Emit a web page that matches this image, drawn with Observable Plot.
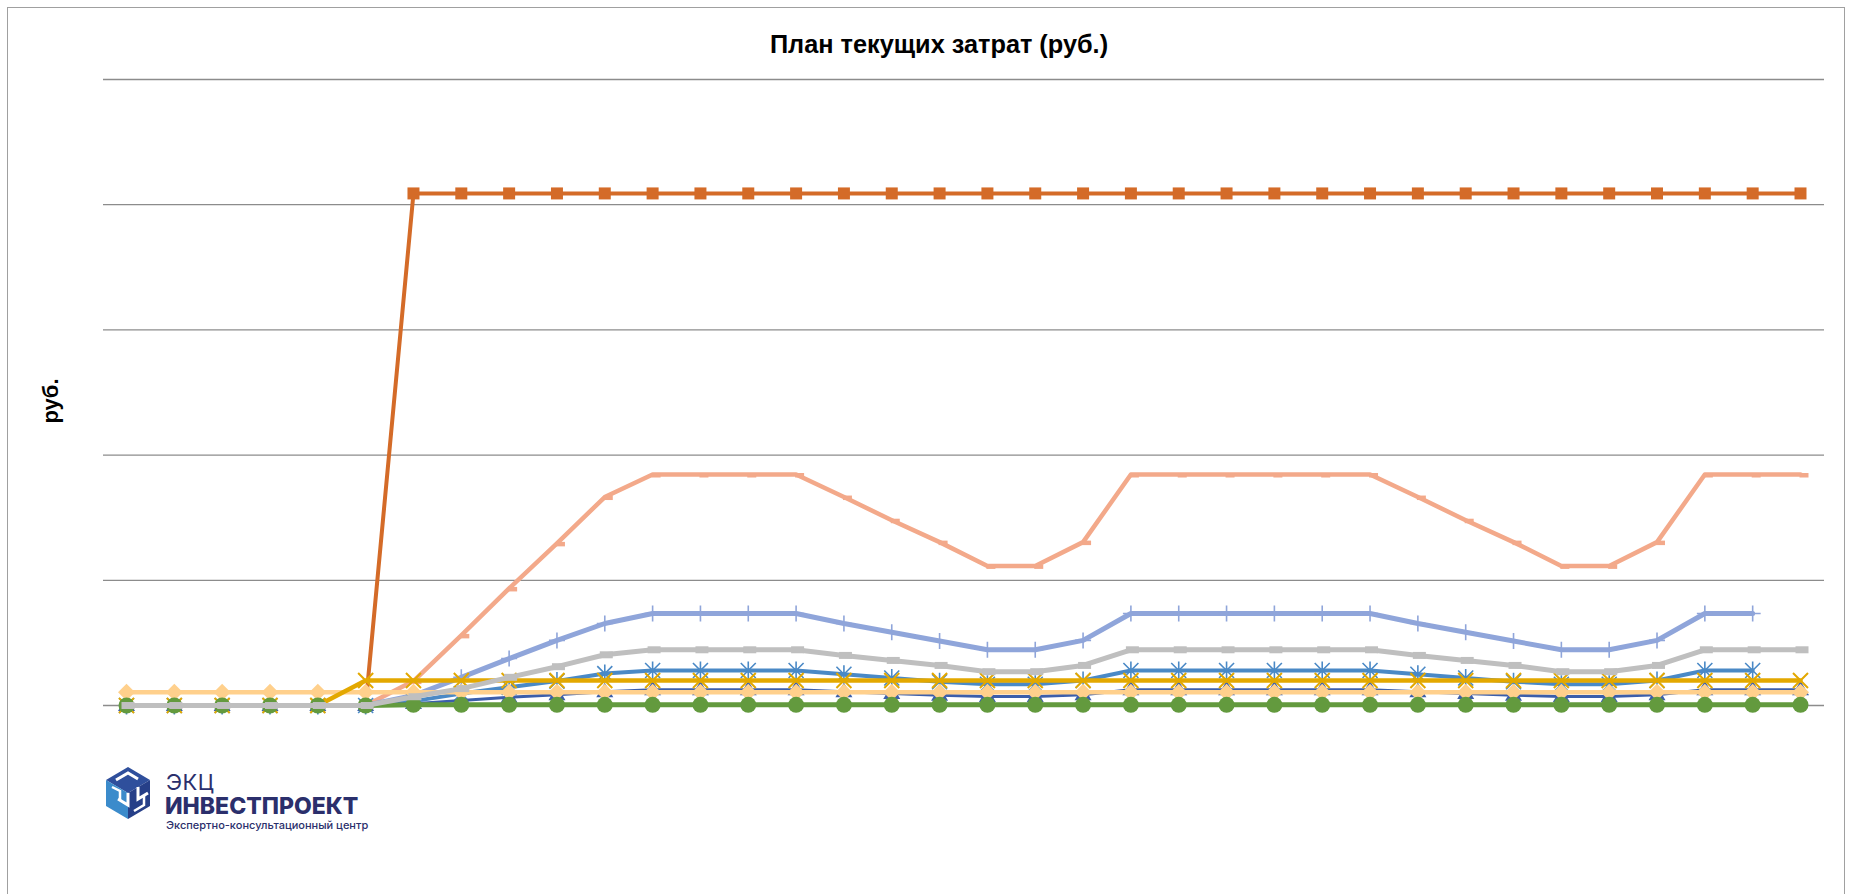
<!DOCTYPE html>
<html>
<head>
<meta charset="utf-8">
<script src="https://cdn.jsdelivr.net/npm/d3@7"></script>
<script src="https://cdn.jsdelivr.net/npm/@observablehq/plot@0.6"></script>
<style>
  html, body { margin: 0; padding: 0; background: #ffffff; }
  #wrap { position: relative; width: 1851px; height: 894px; overflow: hidden; background: #fff; }
  #frame { position: absolute; left: 7px; top: 7px; width: 1838px; height: 920px; border: 1px solid #a0a0a0; box-sizing: border-box; }
  #title { position: absolute; left: 0; top: 32px; width: 1878px; text-align: center; line-height: 1;
           font-family: "Liberation Sans", Arial, sans-serif; font-weight: bold; font-size: 25.3px; color: #000; }
  #ylabel { position: absolute; left: 51px; top: 401px; transform: translate(-50%, -50%) rotate(-90deg); line-height: 1;
            font-family: "Liberation Sans", Arial, sans-serif; font-weight: bold; font-size: 22px; color: #000; white-space: nowrap; }
  #chart { position: absolute; left: 0; top: 0; }
  #logo { position: absolute; left: 104px; top: 765px; }
  .lt { position: absolute; left: 166px; white-space: nowrap; color: #2b2f6c; font-family: Inter, "Open Sans", sans-serif; }
  .lt1 { top: 772px; height: 20px; line-height: 20px; font-size: 22px; font-weight: 400; letter-spacing: 0.4px; }
  .lt2 { top: 796px; left: 165px; height: 20px; line-height: 20px; font-size: 23px; font-weight: 800; }
  .lt3 { top: 819px; height: 12px; line-height: 12px; font-size: 11px; font-weight: 500; }
</style>
</head>
<body>
<div id="wrap">
  <div id="frame"></div>
  <div id="chart"></div>
  <div id="title">План текущих затрат (руб.)</div>
  <div id="ylabel">руб.</div>
  <svg id="logo" width="50" height="56" viewBox="0 0 50 56">
    <polygon points="24,2 46,15 24,28 2,15" fill="#2f4f9c"/>
    <polygon points="2,15 24,28 24,54 2,41" fill="#3b8bcb"/>
    <polygon points="46,15 46,41 24,54 24,28" fill="#263f88"/>
    <path d="M12,15 L24,8 L34,14 M24,28 L24,40 L14,34 M34,22 L34,34 L44,28" stroke="#ffffff" stroke-width="3" fill="none"/>
    <path d="M8,22 L16,26 L16,36 M30,46 L40,40 L40,30" stroke="#ffffff" stroke-width="2.5" fill="none"/>
  </svg>
  <div class="lt lt1">ЭКЦ</div>
  <div class="lt lt2">ИНВЕСТПРОЕКТ</div>
  <div class="lt lt3">Экспертно-консультационный центр</div>
</div>
<script>
// ---- data (y units arbitrary, gridline step = 200) ----
const periods = ["1","2","3","4","5","6","7","8","9","10","11","12","13","14","15","16","17","18",
                 "19","20","21","22","23","24","25","26","27","28","29","30","31","32","33","34","35","36"];

const gridValues = [0, 200, 400, 600, 800, 1000];

const seriesOrange = [0,0,0,0,0,0, 818,818,818,818,818,818,818,818,818,818,818,818,
                      818,818,818,818,818,818,818,818,818,818,818,818,818,818,818,818,818,818];
const seriesSalmon = [0,0,0,0,0,0, 39,112,187,259,333,369,369,369,369,333,296,261,
                      223,223,261,369,369,369,369,369,369,333,296,261,223,223,261,369,369,369];
const seriesPeriwinkle = [0,0,0,0,0,0, 16,45,75,104,131,147,147,147,147,131,117,103,
                          89,89,104,147,147,147,147,147,147,131,117,103,89,89,104,147,147,null];
const seriesSteel = [0,0,0,0,0,0, 7,19,29,39,51,56,56,56,56,50,44,38,
                     34,34,40,56,56,56,56,56,56,50,44,38,34,34,40,56,56,null];
const seriesNavy = [0,0,0,0,0,0, 3,8,13,17,22,25,25,25,25,22,19,16.5,
                    14.5,14.5,17,25,25,25,25,25,25,22,19,16.5,14.5,14.5,17,25,25,25];
const seriesPeach = [21,21,21,21,21,21,21,21,21,21,21,21,21,21,21,21,21,21,
                     21,21,21,21,21,21,21,21,21,21,21,21,21,21,21,21,21,21];
const seriesGold = [0,0,0,0,0,40,40,40,40,40,40,40,40,40,40,40,40,40,
                    40,40,40,40,40,40,40,40,40,40,40,40,40,40,40,40,40,40];
const seriesGreen = [0,0,0,0,0,0,1,1,1,1,1,1,1,1,1,1,1,1,
                     1,1,1,1,1,1,1,1,1,1,1,1,1,1,1,1,1,1];
const seriesGray = [0,0,0,0,0,0, 14,27,45,62,81,89,89,89,89,80,72,64,
                    54,54,64,89,89,89,89,89,89,80,72,64,54,54,64,89,89,89];

// ---- marker shapes (styles) ----
const symSquare = {draw(c){ c.rect(-6,-6,12,12); }};
const symDash = {draw(c){ c.rect(-1,-1.5,9,4.5); }};
const symLongDash = {draw(c){ c.rect(-5,-3.5,13,7); }};
const symPlus = {draw(c){ c.moveTo(0,-8); c.lineTo(0,8); c.moveTo(-8,0); c.lineTo(8,0); }};
const symStar = {draw(c){ const a=7.5; c.moveTo(0,-9); c.lineTo(0,9); c.moveTo(-a,-a); c.lineTo(a,a); c.moveTo(-a,a); c.lineTo(a,-a); }};
const symTimes = {draw(c){ const a=7.5; c.moveTo(-a,-a); c.lineTo(a,a); c.moveTo(-a,a); c.lineTo(a,-a); }};
const symDiamond = {draw(c){ const a=8.5; c.moveTo(0,-a); c.lineTo(a,0); c.lineTo(0,a); c.lineTo(-a,0); c.closePath(); }};
const symTri = {draw(c){ c.moveTo(0,-9); c.lineTo(8.5,5.5); c.lineTo(-8.5,5.5); c.closePath(); }};

// drawing order: first is bottom
const series = [
  {values: seriesOrange,     color: "#d46b28", width: 4,   sym: symSquare,   fill: true},
  {values: seriesSalmon,     color: "#f3a98a", width: 4.5, sym: symDash,     fill: true},
  {values: seriesPeriwinkle, color: "#8fa5da", width: 5,   sym: symPlus,     fill: false, sw: 1.6},
  {values: seriesSteel,      color: "#4a89c6", width: 4,   sym: symStar,     fill: false, sw: 1.6},
  {values: seriesNavy,       color: "#3b5eab", width: 3,   sym: symTri,      fill: true},
  {values: seriesPeach,      color: "#ffd08c", width: 4.5, sym: symDiamond,  fill: true},
  {values: seriesGold,       color: "#e3a800", width: 4.5, sym: symTimes,    fill: false, sw: 2},
  {values: seriesGreen,      color: "#639a3e", width: 5,   sym: "circle",    fill: true, r: 8},
  {values: seriesGray,       color: "#bfbfbf", width: 5,   sym: symLongDash, fill: true}
];

const marks = [Plot.ruleY(gridValues, {stroke: "#8c8c8c", strokeWidth: 1.3})];
for (const s of series) {
  const rows = periods.map((p, i) => ({period: p, value: s.values[i]}));
  const defined = rows.filter(d => d.value != null);
  marks.push(Plot.line(rows, {x: "period", y: "value", stroke: s.color, strokeWidth: s.width,
                              strokeLinejoin: "round", strokeLinecap: "round"}));
  marks.push(Plot.dot(defined, {x: "period", y: "value", symbol: s.sym, r: s.r || 5,
                                fill: s.fill ? s.color : "none",
                                stroke: s.fill ? "none" : s.color,
                                strokeWidth: s.sw || 1}));
}

const chart = Plot.plot({
  width: 1851,
  height: 894,
  marginLeft: 103,
  marginRight: 27,
  marginTop: 79,
  marginBottom: 189,
  style: {background: "transparent", overflow: "visible"},
  x: {type: "point", domain: periods, range: [126, 1800], padding: 0, round: false, axis: null},
  y: {domain: [0, 1000], axis: null},
  marks
});
document.getElementById("chart").appendChild(chart);
</script>
</body>
</html>
